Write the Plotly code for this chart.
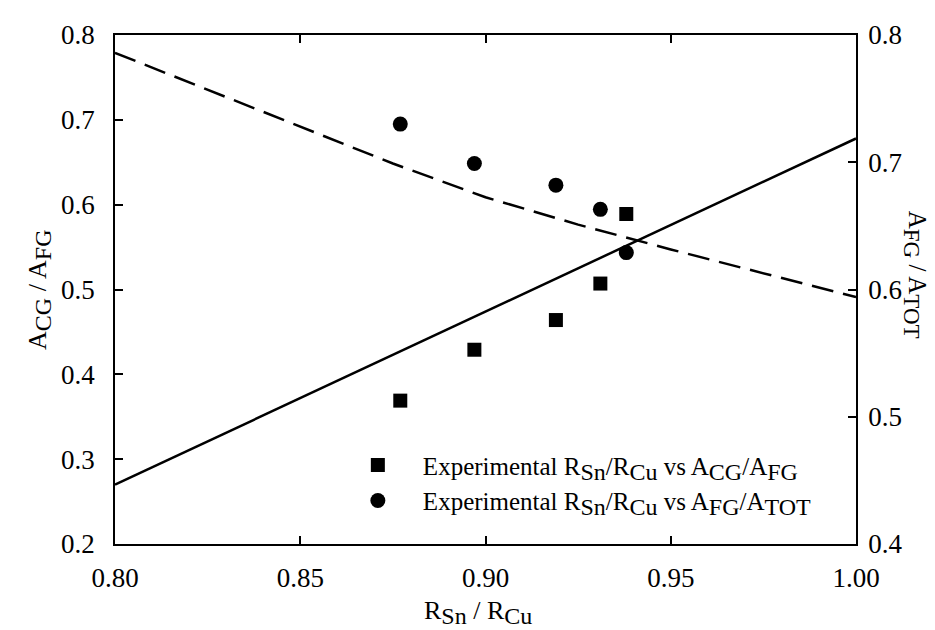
import plotly.graph_objects as go

# Experimental points
ratio_exp = [0.877, 0.897, 0.919, 0.931, 0.938]
acg_afg_exp = [0.369, 0.429, 0.464, 0.507, 0.589]
afg_atot_exp = [0.730, 0.699, 0.682, 0.663, 0.629]

# Model curves
ratio_solid = [0.80, 1.00]
acg_afg_model = [0.270, 0.678]
ratio_dash = [0.80, 0.825, 0.85, 0.875, 0.90, 0.925, 0.95, 0.975, 1.00]
afg_atot_model = [0.786, 0.757, 0.728, 0.699, 0.6725, 0.651, 0.6315, 0.6125, 0.594]

x_ticks = [0.80, 0.85, 0.90, 0.95, 1.00]
y1_ticks = [0.2, 0.3, 0.4, 0.5, 0.6, 0.7, 0.8]
y2_ticks = [0.4, 0.5, 0.6, 0.7, 0.8]

FONT = "Liberation Serif, Times New Roman, serif"


def sub(txt, px):
    return f"<sub><span style='font-size:{px}px'>{txt}</span></sub>"


LEG = 25
LS = 24
leg1 = f"Experimental R{sub('Sn', LS)}/R{sub('Cu', LS)} vs A{sub('CG', LS)}/A{sub('FG', LS)}"
leg2 = f"Experimental R{sub('Sn', LS)}/R{sub('Cu', LS)} vs A{sub('FG', LS)}/A{sub('TOT', LS)}"

fig = go.Figure()
fig.add_trace(go.Scatter(x=ratio_solid, y=acg_afg_model, mode="lines",
                         line=dict(color="black", width=2.5), showlegend=False))
fig.add_trace(go.Scatter(x=ratio_dash, y=afg_atot_model, mode="lines", yaxis="y2",
                         line=dict(color="black", width=2.5, dash="22px,10px"), showlegend=False))
fig.add_trace(go.Scatter(x=ratio_exp, y=acg_afg_exp, mode="markers",
                         marker=dict(symbol="square", size=14, color="black"), name=leg1))
fig.add_trace(go.Scatter(x=ratio_exp, y=afg_atot_exp, mode="markers", yaxis="y2",
                         marker=dict(symbol="circle", size=15, color="black"), name=leg2))

axis_common = dict(showgrid=False, zeroline=False, showline=True, linecolor="black", linewidth=1.5,
                   ticks="inside", ticklen=8, tickwidth=1.5, tickcolor="black",
                   ticklabeloverflow="allow",
                   tickfont=dict(family=FONT, size=27, color="black"))

TT = 26
TS = 24
fig.update_layout(
    width=935, height=630,
    margin=dict(l=107, r=87, t=15, b=94),
    plot_bgcolor="white", paper_bgcolor="white",
    font=dict(family=FONT, color="black"),
    xaxis=dict(range=[0.80, 1.00], tickvals=x_ticks, ticktext=[f"{v:.2f}" for v in x_ticks],
               mirror="ticks", ticklabelstandoff=9, **axis_common),
    yaxis=dict(range=[0.2, 0.8], tickvals=y1_ticks, ticktext=[f"{v:.1f}" for v in y1_ticks],
               ticklabelstandoff=13, **axis_common),
    yaxis2=dict(range=[0.4, 0.8], tickvals=y2_ticks, ticktext=[f"{v:.1f}" for v in y2_ticks],
                overlaying="y", side="right", ticklabelstandoff=5, **axis_common),
    legend=dict(x=0.294, y=0.20, xanchor="left", yanchor="top", bgcolor="rgba(0,0,0,0)",
                font=dict(family=FONT, size=LEG, color="black"), itemwidth=80, tracegroupgap=0),
    annotations=[
        dict(text=f"R{sub('Sn', TS)} / R{sub('Cu', TS)}", xref="paper", yref="paper", x=0.49, y=-0.135,
             xanchor="center", yanchor="middle", showarrow=False,
             font=dict(family=FONT, size=TT, color="black")),
        dict(text=f"A{sub('CG', TS)} / A{sub('FG', TS)}", xref="paper", yref="paper", x=-0.102, y=0.5,
             xanchor="center", yanchor="middle", showarrow=False, textangle=-90,
             font=dict(family=FONT, size=TT, color="black")),
        dict(text=f"A{sub('FG', 23)} / A{sub('TOT', 23)}", xref="paper", yref="paper", x=1.079, y=0.53,
             xanchor="center", yanchor="middle", showarrow=False, textangle=90, borderpad=0,
             font=dict(family=FONT, size=25, color="black")),
    ],
)

fig.write_html("out.html")
